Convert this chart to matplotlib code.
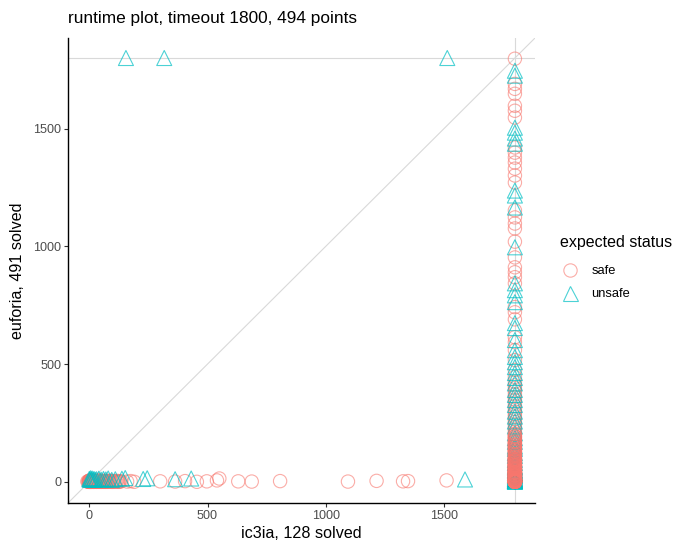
import matplotlib
matplotlib.use("Agg")
import matplotlib.pyplot as plt
from matplotlib.lines import Line2D

plt.rcParams["font.family"] = ["Liberation Sans", "DejaVu Sans"]

timeout = 1800
title = "runtime plot, timeout 1800, 494 points"
x_label = "ic3ia, 128 solved"
y_label = "euforia, 491 solved"
legend_title = "expected status"
ticks = [0, 500, 1000, 1500]

# ic3ia timed out (x = 1800), euforia runtime
col_safe_y = [1797, 1690, 1669, 1648, 1597, 1576, 1547, 1420, 1398, 1377, 1356, 1330,
              1301, 1271, 1153, 1123, 1097, 1076, 1020, 953, 911, 890, 869, 843, 742,
              720, 690, 614, 593, 559, 517, 475, 445, 425, 410, 398, 385, 372, 360, 348,
              336, 322, 310, 298, 287, 276, 265, 254, 243, 232, 222, 212, 202, 193, 184,
              175, 167, 159, 151, 144, 137, 130, 124, 118, 112, 106, 100, 95, 90, 85, 80,
              76, 72, 68, 64, 60, 57, 54, 51, 48, 45, 42, 40, 37, 35, 33, 31, 29, 27, 25,
              23, 21, 20, 18, 17, 15, 14, 13, 12, 11, 10, 9, 8, 7, 6, 5, 5, 4, 4, 3, 3,
              2, 2, 2, 1, 1, 1, 1, 0, 0, 0, 0, 0, 0]
col_safe_dense_y = [203, 194, 189, 181, 172, 168, 159, 151, 147, 138, 129, 126, 117, 109,
                    104, 97, 91, 86, 79, 71, 66, 61, 55, 48, 41, 39, 33, 27,
                    21, 16, 9, 3, 98, 93, 88, 83, 78, 74, 70, 66, 62, 58, 55, 52,
                    49, 46, 43, 39, 36, 34, 32, 30, 28, 26, 24, 22, 19, 16, 14, 12, 10,
                    9, 8, 7, 6, 5, 4, 3, 3, 2, 2, 1, 1, 1, 0, 0, 0, 0, 0, 0, 0, 0,
                    158, 136, 114, 92, 71, 53, 41, 27, 18, 11, 6, 2, 0, 0, 0, 0]
col_unsafe_y = [1746, 1725, 1504, 1483, 1458, 1436, 1237, 1216, 1165, 996, 843, 814,
                792, 763, 674, 653, 602, 559, 530, 508, 487, 462, 441, 418, 390, 369,
                347, 326, 298, 277, 256, 235, 206, 185, 170, 150, 140, 122, 110, 93, 80,
                65, 60, 50, 45, 37, 30, 25, 20, 15, 12, 10, 8, 5, 3, 2, 1, 0]

# both solved (bottom row)
row_safe_x = [0, 1, 2, 3, 4, 5, 6, 8, 10, 12, 14, 16, 18, 20, 23, 26, 30, 34, 38, 42,
              46, 50, 55, 60, 65, 70, 76, 82, 88, 95, 102, 110, 118, 126, 135, 160, 175,
              190, 300, 363, 405, 455, 497, 540, 550, 630, 687, 807, 1094, 1215, 1327,
              1348, 1511]
row_safe_y = [0, 1, 0, 2, 1, 0, 3, 1, 0, 2, 1, 4, 0, 2, 1, 3, 0, 2, 5, 1,
              0, 3, 2, 1, 4, 0, 2, 1, 3, 0, 2, 1, 4, 0, 2, 1, 3,
              0, 2, 1, 3, 0, 2, 6, 14, 2, 1, 3, 1, 4, 2,
              3, 6]
row_safe_dense_x = [-8, -5, -2, 0, 0, 1, 1, 2, 3, 3, 4, 5, 6, 7, 9, 11, 13, 15, 17, 19,
                    21, 24, 27, 29, 32, 35, 37, 40, 44, 47, 51, 54, 58, 62, 67, 72, 78,
                    84, 91, 99, 106, 114, 122, 129, 0, 2, 4, 8, 12, 22, 36, 48, 63, 85]
row_safe_dense_y = [1, 0, 2, 0, 3, 1, 0, 2, 1, 0, 3, 0, 1, 2, 0, 1, 3, 0, 2, 1,
                    0, 2, 1, 3, 0, 1, 2, 0, 3, 1, 0, 2, 1, 0, 2, 1, 0,
                    2, 1, 0, 3, 1, 0, 2, 5, 6, 4, 7, 5, 4, 6, 5, 4, 5]
row_unsafe_x = [0, 2, 5, 8, 12, 16, 20, 25, 30, 40, 50, 60, 70, 80, 95, 110, 138, 152,
                228, 245, 363, 431, 1589]
row_unsafe_y = [12, 8, 15, 10, 14, 9, 12, 8, 11, 13, 9, 12, 10, 14, 8, 11, 13, 16,
                12, 15, 11, 14, 10]

# euforia timed out (y = 1800)
top_unsafe_x = [155, 317, 1514]

safe_c = "#F8766D"
unsafe_c = "#00BFC4"

fig = plt.figure(figsize=(6.74, 5.44), dpi=100)
ax = fig.add_axes([68 / 674, 1 - 503 / 544, 467 / 674, 465 / 544])

lim = (-90, 1885)
ax.plot(lim, lim, c="#D9D9D9", lw=0.8, zorder=1)
ax.axvline(timeout, c="#D9D9D9", lw=0.8, zorder=1)
ax.axhline(timeout, c="#D9D9D9", lw=0.8, zorder=1)

circ = dict(marker="o", s=92, facecolors="none", edgecolors=safe_c,
            linewidths=0.8, alpha=0.6, zorder=2)
tri = dict(marker="^", s=117, facecolors="none", edgecolors=unsafe_c,
           linewidths=0.8, alpha=0.7, zorder=3)

ax.scatter([timeout] * len(col_safe_y), col_safe_y, **circ)
ax.scatter(row_safe_x, row_safe_y, **circ)
ax.scatter([timeout] * len(col_unsafe_y), col_unsafe_y, **tri)
ax.scatter(top_unsafe_x, [timeout] * len(top_unsafe_x), **tri)
# the densest runs of safe points sit over the triangles in the column
ax.scatter([timeout] * len(col_safe_dense_y), col_safe_dense_y, **{**circ, "zorder": 4})
ax.scatter(row_safe_dense_x, row_safe_dense_y, **{**circ, "zorder": 4})
ax.scatter(row_unsafe_x, row_unsafe_y, **{**tri, "zorder": 5})

ax.set_xlim(lim)
ax.set_ylim(lim)
ax.set_xticks(ticks)
ax.set_yticks(ticks)
for side in ["top", "right"]:
    ax.spines[side].set_visible(False)
for side in ["left", "bottom"]:
    ax.spines[side].set_linewidth(1.0)
ax.tick_params(length=3, width=0.8, color="#333333", labelcolor="#4D4D4D",
               labelsize=9.1, pad=2)

ax.set_xlabel(x_label, fontsize=11.6)
ax.set_ylabel(y_label, fontsize=11.6)
ax.xaxis.label.set_va("center")
ax.yaxis.label.set_va("center")
ax.xaxis.set_label_coords(0.5, (503 - 533) / 465)
ax.yaxis.set_label_coords((17.5 - 68) / 467, 0.5)
fig.text(68 / 674, 1 - 18 / 544, title, fontsize=12.4, va="center", ha="left")

fig.text(560 / 674, 1 - 242 / 544, legend_title, fontsize=11.5, va="center", ha="left")
handles = [
    Line2D([0], [0], ls="none", marker="o", markersize=9.6, markerfacecolor="none",
           markeredgecolor=safe_c, markeredgewidth=0.8, alpha=0.6, label="safe"),
    Line2D([0], [0], ls="none", marker="^", markersize=10.8, markerfacecolor="none",
           markeredgecolor=unsafe_c, markeredgewidth=0.8, alpha=0.7, label="unsafe"),
]
leg = fig.legend(handles=handles, loc="upper left",
                 bbox_to_anchor=(558 / 674, 1 - 265 / 544), frameon=False,
                 fontsize=9.3, handletextpad=0.8, labelspacing=0.85,
                 borderaxespad=0, borderpad=0, handlelength=1.8)

fig.savefig("out.png", dpi=100)
